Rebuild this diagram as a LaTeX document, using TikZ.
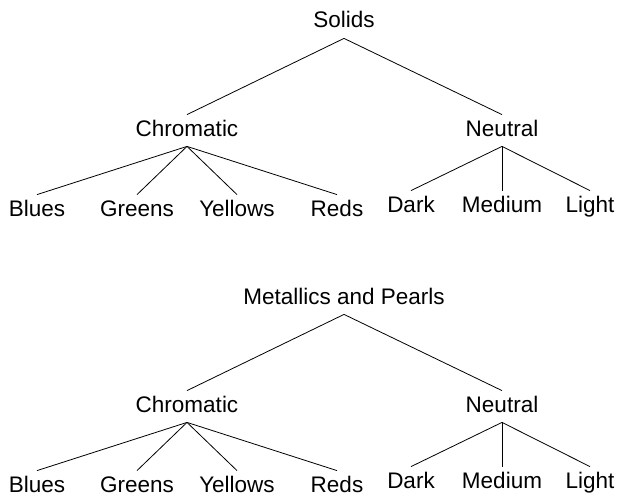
\documentclass[tikz,border=0pt]{standalone}
\usepackage{fontspec}
\setmainfont{Liberation Sans}
\begin{document}
\begin{tikzpicture}[x=1pt,y=-1pt,line width=0.8pt,
		lbl/.style={anchor=base,inner xsep=0pt,inner ysep=5pt,text height=16pt,text depth=5pt,font=\fontsize{22.5}{27}\selectfont}]
			\useasboundingbox (0,0) rectangle (618,495);
			% solids
			\node[lbl] (sol) at (344,28) {Solids};
			\node[lbl] (chrA) at (187,136) {Chromatic};
			\node[lbl] (neuA) at (502,136) {Neutral};
			\node[lbl] (bluA) at (37,216) {Blues};
			\node[lbl] (greA) at (137,216) {Greens};
			\node[lbl] (yelA) at (237,216) {Yellows};
			\node[lbl] (redA) at (337,216) {Reds};
			\node[lbl] (darA) at (411,212) {Dark};
			\node[lbl] (medA) at (502,212) {Medium};
			\node[lbl] (ligA) at (590,212) {Light};
			\draw (sol.south) -- (chrA.north);
			\draw (sol.south) -- (neuA.north);
			\draw (chrA.south) -- (bluA.north);
			\draw (chrA.south) -- (greA.north);
			\draw (chrA.south) -- (yelA.north);
			\draw (chrA.south) -- (redA.north);
			\draw (neuA.south) -- (darA.north);
			\draw (neuA.south) -- (medA.north);
			\draw (neuA.south) -- (ligA.north);
			% metallics and pearls
			\node[lbl] (met) at (344,304) {Metallics and Pearls};
			\node[lbl] (chrB) at (187,412) {Chromatic};
			\node[lbl] (neuB) at (502,412) {Neutral};
			\node[lbl] (bluB) at (37,492) {Blues};
			\node[lbl] (greB) at (137,492) {Greens};
			\node[lbl] (yelB) at (237,492) {Yellows};
			\node[lbl] (redB) at (337,492) {Reds};
			\node[lbl] (darB) at (411,488) {Dark};
			\node[lbl] (medB) at (502,488) {Medium};
			\node[lbl] (ligB) at (590,488) {Light};
			\draw (met.south) -- (chrB.north);
			\draw (met.south) -- (neuB.north);
			\draw (chrB.south) -- (bluB.north);
			\draw (chrB.south) -- (greB.north);
			\draw (chrB.south) -- (yelB.north);
			\draw (chrB.south) -- (redB.north);
			\draw (neuB.south) -- (darB.north);
			\draw (neuB.south) -- (medB.north);
			\draw (neuB.south) -- (ligB.north);
		\end{tikzpicture}
\end{document}
